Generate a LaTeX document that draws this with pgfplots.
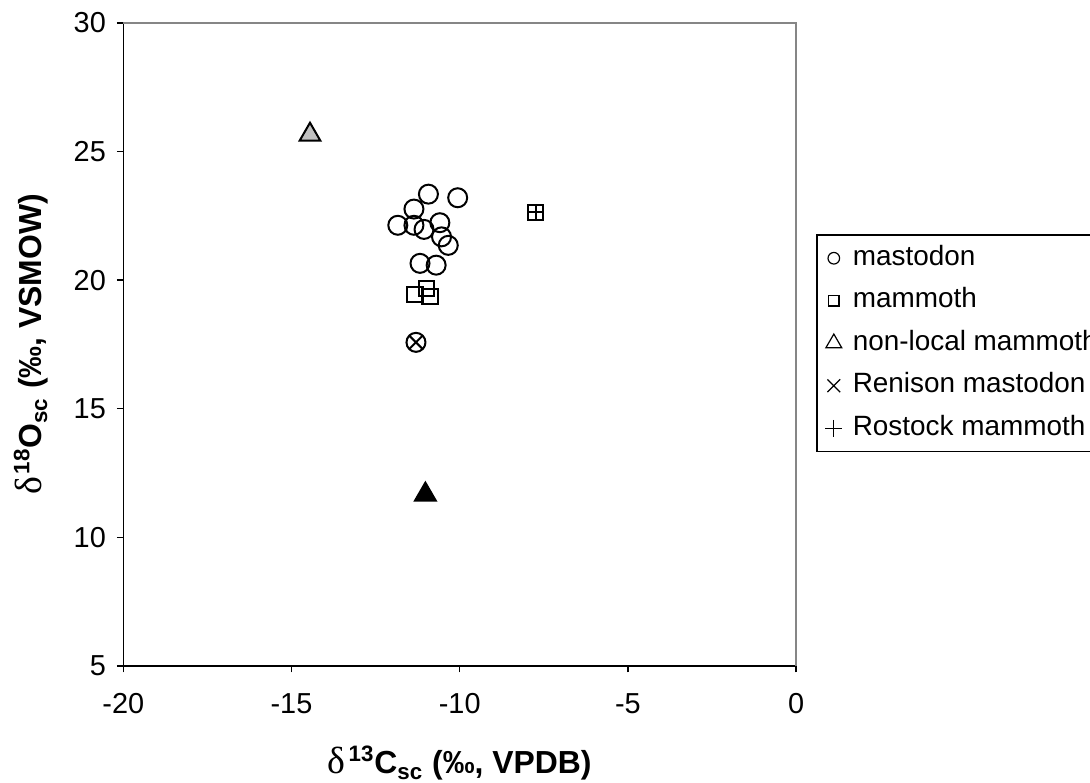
\documentclass[border=0pt]{standalone}
\usepackage{fontspec}
\setmainfont{Liberation Sans}
\newfontfamily\symfont{Liberation Serif}
\usepackage{pgfplots}
\pgfplotsset{compat=1.18}
\definecolor{greytri}{HTML}{C0C0C0}
\definecolor{bordergrey}{HTML}{868686}
\newcommand{\dlt}{{\symfont\mdseries\fontsize{19}{19}\selectfont δ}\kern1.5bp}
\begin{document}
\begin{tikzpicture}
\path[use as bounding box, clip] (-61.65bp,-58.5bp) rectangle (483.35bp,333bp);
\begin{axis}[
  at={(0,0)}, anchor=south west,
  scale only axis, width=336.4bp, height=321.6bp,
  xmin=-20, xmax=0, ymin=5, ymax=30,
  clip=false,
  axis lines=left,
  axis line style={-, line width=0.75bp, black},
  xtick={-20,-15,-10,-5,0}, xticklabels={-20,-15,-10,-5,0},
  ytick={5,10,15,20,25,30}, yticklabels={5,10,15,20,25,30},
  tick align=outside, major tick length=3.2bp,
  tick style={line width=0.75bp, black},
  ticklabel style={font=\fontsize{14.5}{17}\selectfont},
  xticklabel style={yshift=-7bp},
  yticklabel style={xshift=-2bp},
  xlabel={\dlt\textsuperscript{13}C\textsubscript{sc} (‰, VPDB)},
  ylabel={\dlt\textsuperscript{18}O\textsubscript{sc} (‰, VSMOW)},
  label style={font=\fontsize{16}{19}\selectfont\bfseries},
  xlabel style={at={(axis description cs:0.5,-0.151)}, anchor=center},
  ylabel style={at={(axis description cs:-0.1368,0.5)}, anchor=center},
  legend cell align=left,
  legend image code/.code={\path[draw=none,fill=none] (-5bp,-4bp) rectangle (5bp,4bp); \draw[#1] plot coordinates {(0bp,0bp)};},
  legend style={at={(1.0297,0.6715)}, anchor=north west, draw=black, line width=0.75bp,
    font=\fontsize{14}{16}\selectfont, inner xsep=3.5bp, inner ysep=5.2bp,
    row sep=8.25bp, column sep=4.5bp,
    nodes={inner sep=0pt, text height=10bp, text depth=3bp}},
]
\draw[bordergrey, line width=0.75bp] (rel axis cs:0,1) -- (rel axis cs:1,1) -- (rel axis cs:1,0);

% mastodon (incl. Renison)
\addplot[forget plot, only marks, mark=o, mark size=4.75bp, line width=1bp, black] coordinates {
(-10.93,23.34) (-10.06,23.20) (-11.36,22.76) (-11.84,22.13) (-11.36,22.13)
(-11.06,21.97) (-10.59,22.23) (-10.54,21.68) (-10.34,21.35) (-11.18,20.65)
(-10.70,20.58) (-11.30,17.58)
};
% mammoth (incl. Rostock)
\addplot[forget plot, only marks, mark=square, mark size=3.8bp, line width=1bp, black] coordinates {
(-11.33,19.43) (-10.98,19.68) (-10.88,19.35) (-7.74,22.64)
};
% non-local mammoth
\addplot[forget plot, only marks, mark=triangle*, mark size=6bp, line width=1bp, draw=black, fill=greytri] coordinates {
(-14.45,25.65)
};
\addplot[forget plot, only marks, mark=triangle*, mark size=6bp, line width=1bp, draw=black, fill=black] coordinates {
(-11.02,11.66)
};
% Renison mastodon
\addplot[forget plot, only marks, mark=x, mark size=4.75bp, line width=1bp, black] coordinates {
(-11.30,17.58)
};
% Rostock mammoth
\addplot[forget plot, only marks, mark=+, mark size=4.2bp, line width=1bp, black] coordinates {
(-7.74,22.64)
};

\addlegendimage{only marks, mark=o, mark size=2.9bp, line width=0.6bp, black}
\addlegendentry{mastodon}
\addlegendimage{only marks, mark=square, mark size=2.6bp, line width=0.6bp, black}
\addlegendentry{mammoth}
\addlegendimage{only marks, mark=triangle, mark size=4.6bp, line width=0.6bp, black}
\addlegendentry{non-local mammoth}
\addlegendimage{only marks, mark=x, mark size=4.5bp, line width=0.6bp, black}
\addlegendentry{Renison mastodon}
\addlegendimage{only marks, mark=+, mark size=4.2bp, line width=0.6bp, black}
\addlegendentry{Rostock mammoth}
\end{axis}
\end{tikzpicture}
\end{document}
